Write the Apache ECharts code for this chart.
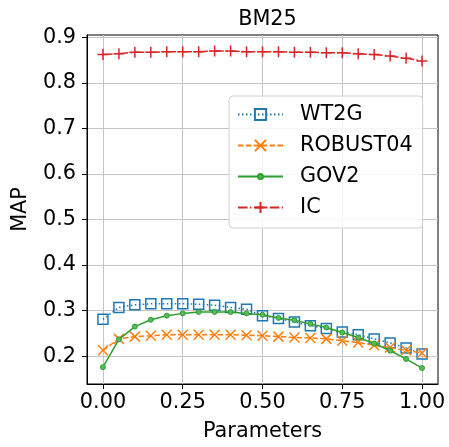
<!DOCTYPE html>
<html>
<head>
<meta charset="utf-8">
<script src="https://cdn.jsdelivr.net/npm/echarts@6/dist/echarts.min.js"></script>
<style>html,body{margin:0;padding:0;background:#fff}#c{width:449px;height:447px}</style>
</head>
<body>
<div id="c"></div>
<script>
const params = [0,0.05,0.1,0.15,0.2,0.25,0.3,0.35,0.4,0.45,0.5,0.55,0.6,0.65,0.7,0.75,0.8,0.85,0.9,0.95,1.0];
const wt2g = [0.281,0.307,0.313,0.315,0.315,0.315,0.314,0.312,0.307,0.303,0.289,0.283,0.275,0.267,0.261,0.253,0.247,0.238,0.229,0.218,0.205];
const robust04 = [0.213,0.238,0.243,0.245,0.247,0.247,0.247,0.247,0.247,0.246,0.245,0.243,0.241,0.240,0.238,0.234,0.230,0.224,0.219,0.213,0.207];
const gov2 = [0.176,0.237,0.265,0.280,0.289,0.294,0.297,0.297,0.297,0.294,0.291,0.284,0.279,0.271,0.263,0.252,0.241,0.228,0.212,0.194,0.174];
const ic = [0.862,0.864,0.867,0.867,0.868,0.868,0.868,0.870,0.870,0.868,0.868,0.868,0.867,0.867,0.866,0.866,0.864,0.862,0.859,0.854,0.848];
const xTicks = [0,0.25,0.5,0.75,1.0];
const yTicks = [0.2,0.3,0.4,0.5,0.6,0.7,0.8,0.9];
const names = ['WT2G','ROBUST04','GOV2','IC'];

const FONT = 'DejaVu Sans';
const FS = 20.8;
const pts = a => params.map((x,i)=>[x,a[i]]);
const X_PATH = 'path://M0,0L10,10M10,0L0,10';
const PLUS_PATH = 'path://M5,0L5,10M0,5L10,5';
const DOT_PATH = 'path://M0,0M20,20M10,5.5A4.5,4.5,0,1,1,10,14.5A4.5,4.5,0,1,1,10,5.5Z';

const chart = echarts.init(document.getElementById('c'), null, {renderer:'canvas'});
const axisCommon = {
  axisLine:{show:true,onZero:false,lineStyle:{color:'#000',width:1}},
  axisTick:{show:true,inside:false,length:5,lineStyle:{color:'#000',width:1}},
  axisLabel:{color:'#000',fontFamily:FONT,fontSize:FS},
  splitLine:{show:true,lineStyle:{color:'#c4c4c4',width:1}},
  nameTextStyle:{color:'#000',fontFamily:FONT,fontSize:FS}
};
chart.setOption({
  animation:false,
  backgroundColor:'#fff',
  title:{text:'BM25',top:4,left:262.5,textAlign:'center',
         textStyle:{fontFamily:FONT,fontSize:FS,fontWeight:'normal',color:'#000'}},
  grid:{left:87,right:11,top:35,bottom:60,containLabel:false,show:true,borderColor:'#000',borderWidth:1},
  legend:{
    orient:'vertical',left:229,top:96,itemGap:10,itemWidth:45,itemHeight:14,
    backgroundColor:'rgba(255,255,255,0.85)',borderColor:'#d0d0d0',borderWidth:1,borderRadius:4,
    padding:[8,10,10,8],
    textStyle:{fontFamily:FONT,fontSize:FS,lineHeight:21,color:'#000',padding:[0,0,0,12]},
    data:names
  },
  xAxis:Object.assign({},axisCommon,{
    type:'value',min:-0.05,max:1.05,name:'Parameters',nameLocation:'middle',nameGap:37,
    axisTick:Object.assign({},axisCommon.axisTick,{customValues:xTicks}),
    axisLabel:Object.assign({},axisCommon.axisLabel,{customValues:xTicks,margin:8,formatter:v=>v.toFixed(2)})
  }),
  yAxis:Object.assign({},axisCommon,{
    type:'value',min:0.139,max:0.905,name:'MAP',nameLocation:'middle',nameGap:56,
    axisTick:Object.assign({},axisCommon.axisTick,{customValues:yTicks}),
    axisLabel:Object.assign({},axisCommon.axisLabel,{customValues:yTicks,margin:11,formatter:v=>v.toFixed(1)})
  }),
  series:[
    {name:'WT2G',type:'line',data:pts(wt2g),symbol:'rect',symbolSize:10,showAllSymbol:true,
     lineStyle:{color:'#1f77b4',width:1.5,type:[1.5,2.5]},
     itemStyle:{color:'rgba(255,255,255,0)',borderColor:'#1f77b4',borderWidth:1.5},z:3},
    {name:'ROBUST04',type:'line',data:pts(robust04),symbol:X_PATH,symbolSize:10,showAllSymbol:true,
     lineStyle:{color:'#ff7f0e',width:1.5,type:[5.5,2.4]},
     itemStyle:{color:'rgba(255,255,255,0)',borderColor:'#ff7f0e',borderWidth:1.5},z:4},
    {name:'GOV2',type:'line',data:pts(gov2),symbol:DOT_PATH,symbolSize:11.1,showAllSymbol:true,
     lineStyle:{color:'#2ca02c',width:1.5},
     itemStyle:{color:'#5cb85c',borderColor:'#2ca02c',borderWidth:1},z:5},
    {name:'IC',type:'line',data:pts(ic),symbol:PLUS_PATH,symbolSize:11,showAllSymbol:true,
     lineStyle:{color:'#d62728',width:1.5,type:[9.6,2.4,1.5,2.4]},
     itemStyle:{color:'rgba(255,255,255,0)',borderColor:'#d62728',borderWidth:1.5},z:6}
  ]
});
</script>
</body>
</html>
